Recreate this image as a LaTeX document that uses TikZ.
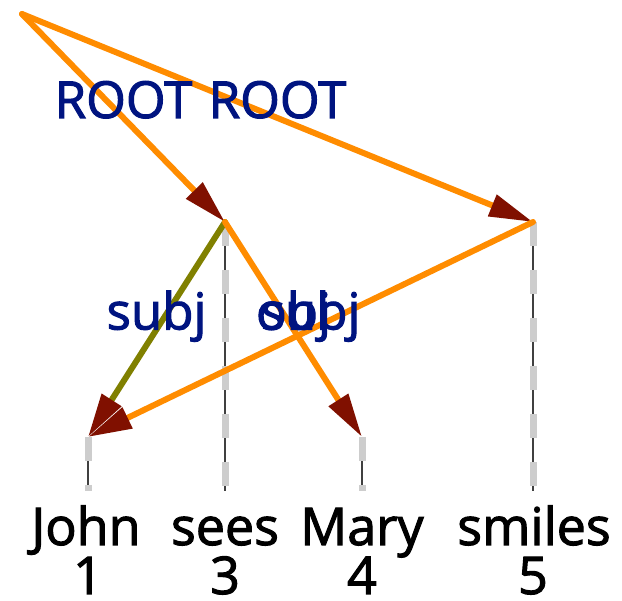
\documentclass[tikz,border=0pt]{standalone}
\usepackage{fontspec}
\setmainfont{Open Sans}[BoldFont={Open Sans},BoldFeatures={FakeBold=2}]
\usetikzlibrary{arrows.meta}
\definecolor{deporange}{RGB}{255,140,0}
\definecolor{depolive}{RGB}{128,128,0}
\definecolor{deptip}{RGB}{128,16,0}
\definecolor{depblue}{RGB}{0,20,128}
\definecolor{depgray}{RGB}{205,205,205}

\begin{document}
\begin{tikzpicture}[x=1pt,y=-1pt,
    edge/.style={line width=6pt,line cap=round,deporange,-{Triangle[length=44pt,width=22pt,deptip]}},
    lbl/.style={depblue,anchor=base,inner sep=0pt,font=\fontsize{51}{51}\selectfont\bfseries},
    word/.style={anchor=base,inner sep=0pt,font=\fontsize{52}{52}\selectfont\bfseries},
    guide/.style={line width=7pt,depgray,dash pattern=on 24pt off 24pt}]
    \useasboundingbox (0,0) rectangle (622,601);

    % Tokens
    \coordinate (root) at (22,14);
    \coordinate (john) at (88,437);
    \coordinate (sees) at (225,222);
    \coordinate (mary) at (362,437);
    \coordinate (smiles) at (533,222);
    \coordinate (floor) at (0,491);

    % Guide lines
    \foreach \n in {john,sees,mary,smiles} {
        \draw[black!75,line width=1.2pt] (\n) -- (\n |- floor);
        \draw[guide] (\n) -- (\n |- floor);
    }

    % Arcs
    \draw[edge] (root) -- coordinate[midway] (m1) (sees);
    \draw[edge] (root) -- coordinate[midway] (m2) (smiles);
    \draw[edge,depolive] (sees) -- coordinate[midway] (m3) (john);
    \draw[edge] (sees) -- coordinate[midway] (m4) (mary);
    \draw[edge] (smiles) -- coordinate[midway] (m5) (john);

    % Arc labels
    \node[lbl] (l1) at (m1) {ROOT};
    \node[lbl] (l2) at (m2) {ROOT};
    \node[lbl] (l3) at (m3) {subj};
    \node[lbl] (l4) at (m4) {obj};
    \node[lbl] (l5) at (m5) {subj};

    % Words and positions
    \node[word] (wjohn) at (86,545) {John};
    \node[word] (wsees) at (225,545) {sees};
    \node[word] (wmary) at (362,545) {Mary};
    \node[word] (wsmiles) at (534,545) {smiles};
    \node[word] (njohn) at (88,594) {1};
    \node[word] (nsees) at (225,594) {3};
    \node[word] (nmary) at (362,594) {4};
    \node[word] (nsmiles) at (533,594) {5};
\end{tikzpicture}
\end{document}
